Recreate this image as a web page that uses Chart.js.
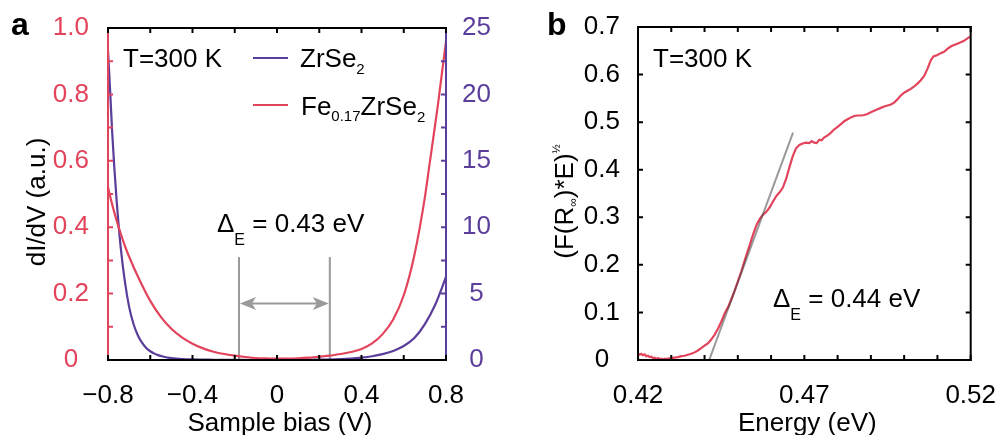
<!DOCTYPE html>
<html>
<head>
<meta charset="utf-8">
<script src="https://cdn.jsdelivr.net/npm/chart.js@4.4.0/dist/chart.umd.min.js"></script>
<style>
  html, body { margin: 0; padding: 0; background: #fff; }
  .panel { position: absolute; top: 0; height: 435px; }
  #panelA { left: 0; width: 500px; }
  #panelB { left: 500px; width: 508px; }
</style>
</head>
<body>
<div class="panel" id="panelA"><canvas id="tunneling"></canvas></div>
<div class="panel" id="panelB"><canvas id="absorption"></canvas></div>
<script>
// ---- panel a: dI/dV spectra ----
var feBias = [-0.8, -0.78, -0.76, -0.74, -0.72, -0.7, -0.65, -0.6, -0.55, -0.5, -0.45, -0.4, -0.35, -0.3, -0.25,
  -0.2, -0.15, -0.1, -0.05, 0, 0.05, 0.1, 0.15, 0.2, 0.25, 0.3, 0.35, 0.4, 0.45, 0.5, 0.55, 0.6, 0.65, 0.7,
  0.72, 0.74, 0.76, 0.78, 0.8];
var feZrSe2 = [0.52, 0.468, 0.422, 0.381, 0.344, 0.311, 0.24, 0.178, 0.13, 0.094, 0.068, 0.049, 0.035, 0.025, 0.018,
  0.013, 0.009, 0.006, 0.005, 0.004, 0.004, 0.005, 0.007, 0.01, 0.013, 0.018, 0.024, 0.033, 0.05, 0.078, 0.122, 0.195,
  0.315, 0.49, 0.58, 0.67, 0.76, 0.86, 0.96];

var zrBias = [-0.8, -0.79, -0.78, -0.76, -0.74, -0.72, -0.7, -0.68, -0.66, -0.64, -0.62, -0.6, -0.58, -0.56, -0.54,
  -0.52, -0.5, -0.45, -0.4, -0.3, -0.2, -0.1, 0, 0.1, 0.2, 0.3, 0.35, 0.4, 0.45, 0.5, 0.55, 0.6, 0.65, 0.7, 0.75, 0.8];
var zrSe2 = [23.3, 20.3, 17.1, 12.2, 8.5, 5.9, 4.0, 2.75, 1.9, 1.32, 0.93, 0.66, 0.48, 0.35, 0.26,
  0.19, 0.14, 0.07, 0.04, 0.02, 0.012, 0.01, 0.012, 0.02, 0.035, 0.075, 0.115, 0.18, 0.28, 0.44, 0.68, 1.05, 1.65,
  2.7, 4.2, 6.25];

var gapEdges = [-0.18, 0.25];   // bias (V)
var gapMarkTop = 0.31;          // left-axis units
var gapArrowLevel = 0.17;

// ---- panel b: (F(R)*E)^1/2 vs energy ----
var energyEV = [0.4200, 0.4205, 0.4210, 0.4215, 0.4220, 0.4225, 0.4230, 0.4235, 0.4240, 0.4245, 0.4250, 0.4255,
  0.4260, 0.4265, 0.4270, 0.4275, 0.4280, 0.4285, 0.4290, 0.4300, 0.4310, 0.4320, 0.4330, 0.4340, 0.4350, 0.4360,
  0.4370, 0.4380, 0.4390, 0.4400, 0.4410, 0.4420, 0.4430, 0.4440, 0.4450, 0.4460, 0.4465, 0.4470, 0.4478, 0.4490,
  0.4500, 0.4510, 0.4522, 0.4535, 0.4547, 0.4557, 0.4567, 0.4575, 0.4585, 0.4595, 0.4605, 0.4615, 0.4625, 0.4635,
  0.4645, 0.4655, 0.4665, 0.4675, 0.4685, 0.4695, 0.4705, 0.4715, 0.4722, 0.4730, 0.4737, 0.4745, 0.4752, 0.4760,
  0.4770, 0.4780, 0.4790, 0.4800, 0.4810, 0.4820, 0.4830, 0.4840, 0.4850, 0.4860, 0.4870, 0.4880, 0.4890, 0.4900,
  0.4910, 0.4920, 0.4930, 0.4940, 0.4950, 0.4960, 0.4970, 0.4980, 0.4990, 0.5000, 0.5010, 0.5020, 0.5030, 0.5040,
  0.5050, 0.5060, 0.5070, 0.5080, 0.5088, 0.5100, 0.5110, 0.5120, 0.5130, 0.5140, 0.5150, 0.5160, 0.5170, 0.5180,
  0.5190, 0.5200];
var kmValue = [0.014, 0.011, 0.013, 0.010, 0.012, 0.008, 0.009, 0.006, 0.007, 0.004, 0.005, 0.002,
  0.004, 0.002, 0.003, 0.001, 0.003, 0.002, 0.003, 0.004, 0.005, 0.006, 0.008, 0.009, 0.011, 0.013,
  0.016, 0.020, 0.025, 0.030, 0.035, 0.043, 0.053, 0.065, 0.080, 0.097, 0.104, 0.110, 0.123, 0.145,
  0.165, 0.185, 0.212, 0.240, 0.266, 0.285, 0.298, 0.305, 0.311, 0.320, 0.332, 0.344, 0.352, 0.362,
  0.380, 0.405, 0.428, 0.445, 0.452, 0.455, 0.457, 0.456, 0.460, 0.457, 0.456, 0.463, 0.462, 0.468,
  0.472, 0.478, 0.485, 0.490, 0.496, 0.502, 0.506, 0.510, 0.513, 0.514, 0.514, 0.515, 0.517, 0.521,
  0.524, 0.527, 0.530, 0.533, 0.535, 0.537, 0.541, 0.548, 0.556, 0.562, 0.566, 0.570, 0.575, 0.581,
  0.588, 0.597, 0.612, 0.630, 0.638, 0.641, 0.645, 0.648, 0.654, 0.659, 0.662, 0.665, 0.668, 0.671,
  0.676, 0.680];
var fitEnergy = [0.4414, 0.4666];
var fitValue = [0, 0.478];

var RED = '#e2445c';
var PURPLE = '#5b3d9b';
var GRAY = '#9a9a9a';
var FONT = '"Liberation Sans", Arial, sans-serif';

Chart.defaults.font.family = FONT;
Chart.defaults.font.size = 26;
Chart.defaults.color = '#000';

function pts(xs, ys) {
  return xs.map(function (x, i) { return { x: x, y: ys[i] }; });
}

function isMultiple(v, step, from) {
  var q = (v - (from || 0)) / step;
  return Math.abs(q - Math.round(q)) < 1e-6;
}

// text runs: [string, fontSize, baselineShift]
function richWidth(ctx, runs) {
  var w = 0;
  runs.forEach(function (r) {
    ctx.font = r[1] + 'px ' + FONT;
    w += ctx.measureText(r[0]).width;
  });
  return w;
}

function drawRich(ctx, runs, x, y, color, center) {
  ctx.save();
  ctx.fillStyle = color;
  ctx.textBaseline = 'alphabetic';
  ctx.textAlign = 'left';
  var cx = center ? x - richWidth(ctx, runs) / 2 : x;
  runs.forEach(function (r) {
    ctx.font = r[1] + 'px ' + FONT;
    ctx.fillText(r[0], cx, y + r[2]);
    cx += ctx.measureText(r[0]).width;
  });
  ctx.restore();
}

// spines with inward ticks at every scale tick
function framePlugin(sides) {
  return {
    id: 'frame',
    afterDatasetsDraw: function (chart) {
      var ctx = chart.ctx, a = chart.chartArea, len = 5;
      ctx.save();
      ctx.lineWidth = 2;
      sides.forEach(function (s) {
        var scale = chart.scales[s.scale];
        ctx.strokeStyle = s.color;
        ctx.beginPath();
        if (s.side === 'left' || s.side === 'right') {
          var x = s.side === 'left' ? a.left : a.right;
          var dx = s.side === 'left' ? len : -len;
          ctx.moveTo(x, a.top - 1);
          ctx.lineTo(x, a.bottom + 1);
          scale.ticks.forEach(function (t) {
            var py = scale.getPixelForValue(t.value);
            ctx.moveTo(x, py);
            ctx.lineTo(x + dx, py);
          });
        } else {
          var y = s.side === 'top' ? a.top : a.bottom;
          var dy = s.side === 'top' ? len : -len;
          ctx.moveTo(a.left - 1, y);
          ctx.lineTo(a.right + 1, y);
          scale.ticks.forEach(function (t) {
            var px = scale.getPixelForValue(t.value);
            ctx.moveTo(px, y);
            ctx.lineTo(px, y + dy);
          });
        }
        ctx.stroke();
      });
      ctx.restore();
    }
  };
}

function titlesPlugin(xRuns, yRuns, yOffset, panelLetter, letterX) {
  return {
    id: 'titles',
    afterDraw: function (chart) {
      var ctx = chart.ctx, a = chart.chartArea;
      drawRich(ctx, xRuns, (a.left + a.right) / 2 + 3, 431, '#000', true);
      ctx.save();
      ctx.translate(a.left - yOffset, (a.top + a.bottom) / 2 + 8);
      ctx.rotate(-Math.PI / 2);
      drawRich(ctx, yRuns, 0, 0, '#000', true);
      ctx.restore();
      ctx.save();
      ctx.font = 'bold 32px ' + FONT;
      ctx.fillStyle = '#000';
      ctx.textBaseline = 'alphabetic';
      ctx.fillText(panelLetter, letterX, 35);
      ctx.restore();
    }
  };
}

function fixWidth(w) { return function (scale) { scale.width = w; }; }
function fixHeight(h) { return function (scale) { scale.height = h; }; }

var hiddenGrid = { display: false };
var hiddenBorder = { display: false };

// ---- panel a ----
var gapPlugin = {
  id: 'gapMarker',
  beforeDatasetsDraw: function (chart) {
    var ctx = chart.ctx, xs = chart.scales.x, ys = chart.scales.y;
    var x0 = xs.getPixelForValue(gapEdges[0]), x1 = xs.getPixelForValue(gapEdges[1]);
    var yTop = ys.getPixelForValue(gapMarkTop), yBot = ys.getPixelForValue(0);
    var yArr = ys.getPixelForValue(gapArrowLevel);
    ctx.save();
    ctx.strokeStyle = GRAY;
    ctx.fillStyle = GRAY;
    ctx.lineWidth = 2;
    ctx.beginPath();
    ctx.moveTo(x0, yTop); ctx.lineTo(x0, yBot);
    ctx.moveTo(x1, yTop); ctx.lineTo(x1, yBot);
    ctx.moveTo(x0 + 8, yArr); ctx.lineTo(x1 - 8, yArr);
    ctx.stroke();
    [[x0 + 1, 1], [x1 - 1, -1]].forEach(function (h) {
      var tx = h[0], d = h[1];
      ctx.beginPath();
      ctx.moveTo(tx, yArr);
      ctx.lineTo(tx + d * 16, yArr - 6.5);
      ctx.lineTo(tx + d * 12, yArr);
      ctx.lineTo(tx + d * 16, yArr + 6.5);
      ctx.closePath();
      ctx.fill();
    });
    ctx.restore();
  }
};

var labelsA = {
  id: 'labelsA',
  afterDraw: function (chart) {
    var ctx = chart.ctx, a = chart.chartArea;
    drawRich(ctx, [['T=300 K', 26, 0]], a.left + 15, a.top + 39, '#000');
    ctx.save();
    ctx.lineWidth = 2.2;
    ctx.strokeStyle = PURPLE;
    ctx.beginPath();
    ctx.moveTo(a.left + 145, a.top + 30); ctx.lineTo(a.left + 180, a.top + 30);
    ctx.stroke();
    ctx.strokeStyle = RED;
    ctx.beginPath();
    ctx.moveTo(a.left + 145, a.top + 77); ctx.lineTo(a.left + 180, a.top + 77);
    ctx.stroke();
    ctx.restore();
    drawRich(ctx, [['ZrSe', 26, 0], ['2', 15, 7]], a.left + 192, a.top + 39, '#000');
    drawRich(ctx, [['Fe', 26, 0], ['0.17', 15, 6], ['ZrSe', 26, 0], ['2', 15, 7]], a.left + 193, a.top + 87, '#000');
    drawRich(ctx, [['\u0394', 26, 0], ['E', 16, 13], [' = 0.43 eV', 26, 0]], a.left + 109, a.top + 204, '#000');
  }
};

new Chart(document.getElementById('tunneling'), {
  type: 'line',
  data: {
    datasets: [
      {
        label: 'Fe0.17ZrSe2',
        data: pts(feBias, feZrSe2),
        yAxisID: 'y',
        borderColor: RED,
        borderWidth: 2.2,
        pointRadius: 0,
        cubicInterpolationMode: 'monotone'
      },
      {
        label: 'ZrSe2',
        data: pts(zrBias, zrSe2),
        yAxisID: 'y2',
        borderColor: PURPLE,
        borderWidth: 2.2,
        pointRadius: 0,
        cubicInterpolationMode: 'monotone'
      }
    ]
  },
  options: {
    responsive: true,
    maintainAspectRatio: false,
    devicePixelRatio: 1,
    animation: false,
    layout: { padding: { top: 28, left: 0, right: 0, bottom: 0 } },
    plugins: { legend: { display: false }, tooltip: { enabled: false } },
    scales: {
      x: {
        type: 'linear', min: -0.8, max: 0.8,
        grid: hiddenGrid, border: hiddenBorder,
        afterFit: fixHeight(75),
        ticks: {
          stepSize: 0.2, padding: 12, maxRotation: 0, autoSkip: false,
          callback: function (v) {
            if (!isMultiple(v, 0.4)) return '';
            if (Math.abs(v) < 1e-9) return '0';
            return (v < 0 ? '\u2212' : '') + Math.abs(v).toFixed(1);
          }
        }
      },
      y: {
        position: 'left', min: 0, max: 1,
        grid: hiddenGrid, border: hiddenBorder,
        afterFit: fixWidth(108),
        ticks: {
          stepSize: 0.1, padding: 11, crossAlign: 'center', color: RED, autoSkip: false,
          callback: function (v) {
            if (!isMultiple(v, 0.2)) return '';
            return Math.abs(v) < 1e-9 ? '0' : v.toFixed(1);
          }
        }
      },
      y2: {
        position: 'right', min: 0, max: 25,
        grid: hiddenGrid, border: hiddenBorder,
        afterFit: fixWidth(54),
        ticks: {
          stepSize: 2.5, padding: 8, crossAlign: 'center', color: PURPLE, autoSkip: false,
          callback: function (v) { return isMultiple(v, 5) ? String(v) : ''; }
        }
      }
    }
  },
  plugins: [
    gapPlugin,
    framePlugin([
      { side: 'left', scale: 'y', color: RED },
      { side: 'right', scale: 'y2', color: PURPLE },
      { side: 'top', scale: 'x', color: '#000' },
      { side: 'bottom', scale: 'x', color: '#000' }
    ]),
    labelsA,
    titlesPlugin([['Sample bias (V)', 26, 0]], [['dI/dV (a.u.)', 26, 0]], 63, 'a', 11)
  ]
});

// ---- panel b ----
var labelsB = {
  id: 'labelsB',
  afterDraw: function (chart) {
    var ctx = chart.ctx, a = chart.chartArea;
    drawRich(ctx, [['T=300 K', 26, 0]], a.left + 15, a.top + 40, '#000');
    drawRich(ctx, [['\u0394', 26, 0], ['E', 16, 13], [' = 0.44 eV', 26, 0]], a.left + 135, a.top + 280, '#000');
  }
};

new Chart(document.getElementById('absorption'), {
  type: 'line',
  data: {
    datasets: [
      {
        label: 'linear fit',
        data: pts(fitEnergy, fitValue),
        borderColor: 'rgba(60,60,60,0.52)',
        borderWidth: 2,
        pointRadius: 0
      },
      {
        label: 'Fe0.17ZrSe2',
        data: pts(energyEV, kmValue),
        borderColor: RED,
        borderWidth: 2.2,
        pointRadius: 0,
        tension: 0
      }
    ]
  },
  options: {
    responsive: true,
    maintainAspectRatio: false,
    devicePixelRatio: 1,
    animation: false,
    layout: { padding: { top: 27, left: 0, right: 33, bottom: 0 } },
    plugins: { legend: { display: false }, tooltip: { enabled: false } },
    scales: {
      x: {
        type: 'linear', min: 0.42, max: 0.52,
        grid: hiddenGrid, border: hiddenBorder,
        afterFit: fixHeight(75),
        ticks: {
          stepSize: 0.01, padding: 12, maxRotation: 0, autoSkip: false,
          callback: function (v) { return isMultiple(v, 0.05, 0.42) ? v.toFixed(2) : ''; }
        }
      },
      y: {
        position: 'left', min: 0, max: 0.7,
        grid: hiddenGrid, border: hiddenBorder,
        afterFit: fixWidth(138),
        ticks: {
          stepSize: 0.1, padding: 10, crossAlign: 'center', autoSkip: false,
          callback: function (v) { return Math.abs(v) < 1e-9 ? '0' : v.toFixed(1); }
        }
      }
    }
  },
  plugins: [
    framePlugin([
      { side: 'left', scale: 'y', color: '#000' },
      { side: 'right', scale: 'y', color: '#000' },
      { side: 'top', scale: 'x', color: '#000' },
      { side: 'bottom', scale: 'x', color: '#000' }
    ]),
    labelsB,
    titlesPlugin([['Energy (eV)', 26, 0]],
      [['(F(R', 26, 0], ['\u221E', 12, 4], [')*E)', 26, 0], ['\u00BD', 11, -13]], 65, 'b', 47)
  ]
});
</script>
</body>
</html>
